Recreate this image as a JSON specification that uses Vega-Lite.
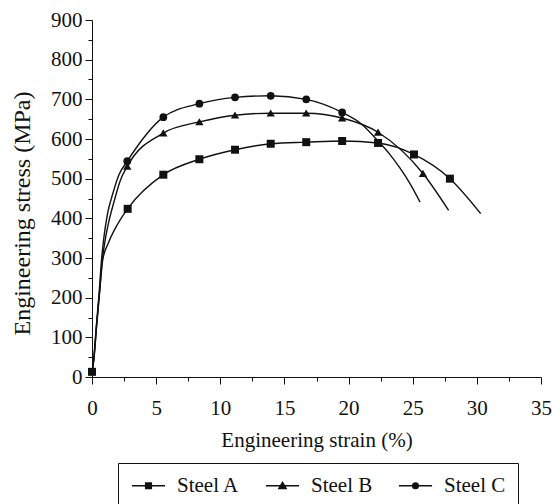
{
  "$schema": "https://vega.github.io/schema/vega-lite/v6.json",
  "width": 449,
  "height": 357,
  "autosize": "none",
  "padding": {"left": 92, "top": 20, "right": 12, "bottom": 127},
  "background": "white",
  "config": {
    "font": "Liberation Serif, Times New Roman, Times, DejaVu Serif, serif",
    "view": {"stroke": null},
    "axis": {
      "grid": false,
      "domainColor": "#111",
      "domainWidth": 1,
      "tickColor": "#111",
      "tickWidth": 1,
      "labelColor": "#111",
      "titleColor": "#111",
      "labelFont": "Liberation Serif, Times New Roman, Times, DejaVu Serif, serif",
      "titleFont": "Liberation Serif, Times New Roman, Times, DejaVu Serif, serif",
      "labelFontWeight": "normal",
      "titleFontWeight": "normal",
      "labelOverlap": false,
      "labelFlush": false,
      "labelFontSize": 21
    },
    "legend": {"labelFont": "Liberation Serif, Times New Roman, Times, DejaVu Serif, serif"}
  },
  "datasets": {
    "curves": [
      {"series": "Steel A", "strain": 0, "stress": 13},
      {"series": "Steel A", "strain": 0.15, "stress": 45},
      {"series": "Steel A", "strain": 0.35, "stress": 126},
      {"series": "Steel A", "strain": 0.58, "stress": 210},
      {"series": "Steel A", "strain": 0.83, "stress": 294},
      {"series": "Steel A", "strain": 1.25, "stress": 336},
      {"series": "Steel A", "strain": 1.87, "stress": 378},
      {"series": "Steel A", "strain": 2.78, "stress": 424},
      {"series": "Steel A", "strain": 5.56, "stress": 510},
      {"series": "Steel A", "strain": 8.37, "stress": 549},
      {"series": "Steel A", "strain": 11.15, "stress": 573},
      {"series": "Steel A", "strain": 13.93, "stress": 588},
      {"series": "Steel A", "strain": 16.7, "stress": 592},
      {"series": "Steel A", "strain": 19.5, "stress": 595},
      {"series": "Steel A", "strain": 22.3, "stress": 590},
      {"series": "Steel A", "strain": 25.1, "stress": 561},
      {"series": "Steel A", "strain": 27.9, "stress": 500},
      {"series": "Steel A", "strain": 30.3, "stress": 412},
      {"series": "Steel B", "strain": 0, "stress": 10},
      {"series": "Steel B", "strain": 0.14, "stress": 45},
      {"series": "Steel B", "strain": 0.35, "stress": 126},
      {"series": "Steel B", "strain": 0.58, "stress": 210},
      {"series": "Steel B", "strain": 0.8, "stress": 294},
      {"series": "Steel B", "strain": 1.0, "stress": 340},
      {"series": "Steel B", "strain": 1.3, "stress": 390},
      {"series": "Steel B", "strain": 1.7, "stress": 440},
      {"series": "Steel B", "strain": 2.2, "stress": 495},
      {"series": "Steel B", "strain": 2.75, "stress": 531},
      {"series": "Steel B", "strain": 5.56, "stress": 615},
      {"series": "Steel B", "strain": 8.37, "stress": 643},
      {"series": "Steel B", "strain": 11.15, "stress": 660},
      {"series": "Steel B", "strain": 13.93, "stress": 665},
      {"series": "Steel B", "strain": 16.7, "stress": 665},
      {"series": "Steel B", "strain": 19.5, "stress": 653},
      {"series": "Steel B", "strain": 22.3, "stress": 617},
      {"series": "Steel B", "strain": 25.8, "stress": 513},
      {"series": "Steel B", "strain": 27.8, "stress": 420},
      {"series": "Steel C", "strain": 0, "stress": 10},
      {"series": "Steel C", "strain": 0.13, "stress": 45},
      {"series": "Steel C", "strain": 0.33, "stress": 126},
      {"series": "Steel C", "strain": 0.55, "stress": 210},
      {"series": "Steel C", "strain": 0.74, "stress": 294},
      {"series": "Steel C", "strain": 0.92, "stress": 350},
      {"series": "Steel C", "strain": 1.2, "stress": 410},
      {"series": "Steel C", "strain": 1.6, "stress": 460},
      {"series": "Steel C", "strain": 2.1, "stress": 510},
      {"series": "Steel C", "strain": 2.75, "stress": 544},
      {"series": "Steel C", "strain": 5.56, "stress": 655},
      {"series": "Steel C", "strain": 8.37, "stress": 689},
      {"series": "Steel C", "strain": 11.15, "stress": 705},
      {"series": "Steel C", "strain": 13.93, "stress": 709},
      {"series": "Steel C", "strain": 16.7, "stress": 700},
      {"series": "Steel C", "strain": 19.5, "stress": 667},
      {"series": "Steel C", "strain": 21.0, "stress": 638},
      {"series": "Steel C", "strain": 22.3, "stress": 595},
      {"series": "Steel C", "strain": 23.2, "stress": 562},
      {"series": "Steel C", "strain": 24.0, "stress": 527},
      {"series": "Steel C", "strain": 24.8, "stress": 487},
      {"series": "Steel C", "strain": 25.57, "stress": 441}
    ],
    "markers": [
      {"series": "Steel A", "strain": 0, "stress": 13},
      {"series": "Steel A", "strain": 2.78, "stress": 424},
      {"series": "Steel A", "strain": 5.56, "stress": 510},
      {"series": "Steel A", "strain": 8.37, "stress": 549},
      {"series": "Steel A", "strain": 11.15, "stress": 573},
      {"series": "Steel A", "strain": 13.93, "stress": 588},
      {"series": "Steel A", "strain": 16.7, "stress": 592},
      {"series": "Steel A", "strain": 19.5, "stress": 595},
      {"series": "Steel A", "strain": 22.3, "stress": 590},
      {"series": "Steel A", "strain": 25.1, "stress": 561},
      {"series": "Steel A", "strain": 27.9, "stress": 500},
      {"series": "Steel B", "strain": 2.75, "stress": 531},
      {"series": "Steel B", "strain": 5.56, "stress": 615},
      {"series": "Steel B", "strain": 8.37, "stress": 643},
      {"series": "Steel B", "strain": 11.15, "stress": 660},
      {"series": "Steel B", "strain": 13.93, "stress": 665},
      {"series": "Steel B", "strain": 16.7, "stress": 665},
      {"series": "Steel B", "strain": 19.5, "stress": 653},
      {"series": "Steel B", "strain": 22.3, "stress": 617},
      {"series": "Steel B", "strain": 25.8, "stress": 513},
      {"series": "Steel C", "strain": 2.75, "stress": 544},
      {"series": "Steel C", "strain": 5.56, "stress": 655},
      {"series": "Steel C", "strain": 8.37, "stress": 689},
      {"series": "Steel C", "strain": 11.15, "stress": 705},
      {"series": "Steel C", "strain": 13.93, "stress": 709},
      {"series": "Steel C", "strain": 16.7, "stress": 700},
      {"series": "Steel C", "strain": 19.5, "stress": 667}
    ]
  },
  "encoding": {
    "x": {
      "field": "strain",
      "type": "quantitative",
      "scale": {"domain": [0, 35], "nice": false, "zero": false},
      "axis": {
        "title": "Engineering strain (%)",
        "titleFontSize": 21,
        "values": [0, 2.5, 5, 7.5, 10, 12.5, 15, 17.5, 20, 22.5, 25, 27.5, 30, 32.5, 35],
        "labelExpr": "datum.value % 5 === 0 ? datum.label : ''",
        "tickSize": {"condition": {"test": "datum.value % 5 !== 0", "value": 4}, "value": 7},
        "labelPadding": 13,
        "titlePadding": 11
      }
    },
    "y": {
      "field": "stress",
      "type": "quantitative",
      "scale": {"domain": [0, 900], "nice": false},
      "axis": {
        "title": "Engineering stress (MPa)",
        "titleFontSize": 24,
        "titleY": 193,
        "values": [0, 50, 100, 150, 200, 250, 300, 350, 400, 450, 500, 550, 600, 650, 700, 750, 800, 850, 900],
        "labelExpr": "datum.value % 100 === 0 ? datum.label : ''",
        "tickSize": {"condition": {"test": "datum.value % 100 !== 0", "value": 4}, "value": 7},
        "labelPadding": 3,
        "titlePadding": 16
      }
    }
  },
  "layer": [
    {
      "data": {"name": "curves"},
      "mark": {"type": "line", "interpolate": "monotone", "color": "#111", "strokeWidth": 1.4},
      "encoding": {"detail": {"field": "series"}}
    },
    {
      "data": {"name": "markers"},
      "transform": [{"filter": "datum.series === 'Steel A'"}],
      "mark": {"type": "point", "shape": "square", "filled": true, "size": 64, "color": "#111", "opacity": 1},
      "encoding": {}
    },
    {
      "data": {"name": "markers"},
      "transform": [{"filter": "datum.series === 'Steel B'"}],
      "mark": {"type": "point", "shape": "M0,-0.95L1.04,0.85L-1.04,0.85Z", "filled": true, "size": 64, "color": "#111", "opacity": 1},
      "encoding": {}
    },
    {
      "data": {"name": "markers"},
      "transform": [{"filter": "datum.series === 'Steel C'"}],
      "mark": {"type": "point", "shape": "circle", "filled": true, "size": 60, "color": "#111", "opacity": 1},
      "encoding": {}
    },
    {
      "data": {"name": "markers"},
      "mark": {"type": "point", "fill": "#111", "stroke": "#111", "strokeWidth": 1.5, "size": 64, "opacity": 0},
      "encoding": {
        "shape": {
          "field": "series",
          "scale": {
            "domain": ["Steel A", "Steel B", "Steel C"],
            "range": [
              "M-1.7,0L1.7,0M-0.29,-0.29L0.29,-0.29L0.29,0.29L-0.29,0.29Z",
              "M-1.7,0L1.7,0M0,-0.34L0.37,0.29L-0.37,0.29Z",
              "M-1.7,0L1.7,0M-0.29,0A0.29,0.29,0,1,0,0.29,0A0.29,0.29,0,1,0,-0.29,0Z"
            ]
          },
          "legend": {
            "title": " ",
            "titleOrient": "left",
            "titleFontSize": 1,
            "titlePadding": 8,
            "orient": "none",
            "direction": "horizontal",
            "legendX": 26,
            "legendY": 443,
            "symbolSize": 380,
            "symbolOpacity": 1,
            "symbolFillColor": "#111",
            "symbolStrokeColor": "#111",
            "symbolStrokeWidth": 1.5,
            "labelFontSize": 21,
            "labelColor": "#111",
            "labelOffset": 18,
            "columnPadding": 22,
            "padding": 12,
            "strokeColor": "#111",
            "cornerRadius": 0,
            "encoding": {
              "symbols": {
                "fill": {"value": "#111"},
                "stroke": {"value": "#111"},
                "strokeWidth": {"value": 1.5},
                "opacity": {"value": 1},
                "strokeOpacity": {"value": 1},
                "fillOpacity": {"value": 1}
              }
            }
          }
        }
      }
    }
  ]
}
